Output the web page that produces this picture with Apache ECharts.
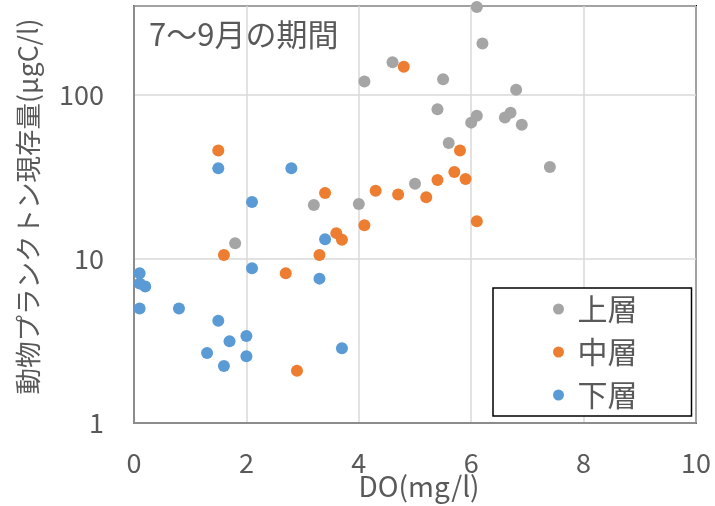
<!DOCTYPE html>
<html>
<head>
<meta charset="utf-8">
<script src="https://cdn.jsdelivr.net/npm/echarts@6/dist/echarts.min.js"></script>
<style>
  html, body { margin: 0; padding: 0; background: #fff; }
  #chart { width: 715px; height: 506px; }
</style>
</head>
<body>
<div id="chart"></div>
<script>
// DO (mg/l) and zooplankton standing stock (µgC/l), July–September
const seriesNames = ['上層', '中層', '下層'];
const seriesColors = ['#A5A5A5', '#ED7D31', '#5B9BD5'];

const upperDO  = [4.1, 4.6, 6.1, 6.2, 5.5, 6.8, 5.4, 6.1, 6.0, 6.7, 6.6, 6.9, 5.6, 7.4, 5.0, 3.2, 4.0, 1.8];
const upperVal = [121, 159, 345, 207, 125, 108, 82, 75, 68, 78, 73, 66, 51, 36.5, 28.8, 21.4, 21.7, 12.5];

const middleDO  = [4.8, 1.5, 5.8, 5.7, 5.4, 5.9, 4.7, 5.2, 4.3, 6.1, 3.4, 4.1, 3.6, 3.7, 1.6, 3.3, 2.7, 2.9];
const middleVal = [149, 46, 46, 34, 30.4, 30.8, 24.8, 23.8, 26.1, 17, 25.3, 16.1, 14.4, 13.1, 10.6, 10.6, 8.2, 2.08];

const lowerDO  = [1.5, 2.8, 2.1, 3.4, 2.1, 3.3, 0.1, 0.1, 0.2, 0.1, 0.8, 1.5, 2.0, 1.7, 1.3, 2.0, 1.6, 3.7];
const lowerVal = [35.8, 35.8, 22.3, 13.2, 8.8, 7.6, 8.2, 7.1, 6.8, 5.0, 5.0, 4.2, 3.4, 3.15, 2.67, 2.55, 2.23, 2.86];

const xTicks = { min: 0, max: 10, interval: 2 };
const yRange = { min: 1, max: 350 };

const FONT = "'Noto Sans CJK JP', 'Noto Sans', sans-serif";
const TEXT = '#595959';

function pairs(xs, ys) {
  return xs.map((x, i) => [x, ys[i]]);
}

const chart = echarts.init(document.getElementById('chart'), null, { renderer: 'canvas' });

chart.setOption({
  animation: false,
  backgroundColor: '#fff',
  textStyle: { fontFamily: FONT },
  title: {
    text: '7〜9月の期間',
    left: 144,
    top: 14,
    textStyle: { fontFamily: FONT, fontSize: 31, fontWeight: 'normal', color: TEXT }
  },
  grid: {
    left: 134, right: 19, top: 6, bottom: 83,
    outerBoundsMode: 'none',
    containLabel: false,
    show: true, borderColor: '#000', borderWidth: 2, backgroundColor: 'transparent'
  },
  legend: {
    orient: 'vertical',
    left: 493, top: 288,
    padding: [6, 54, 6, 60],
    itemGap: 13,
    itemWidth: 28, itemHeight: 11,
    icon: 'circle',
    borderColor: '#000', borderWidth: 1.5,
    backgroundColor: '#fff',
    textStyle: { fontFamily: FONT, fontSize: 30, color: TEXT },
    data: seriesNames
  },
  xAxis: {
    type: 'value',
    min: xTicks.min, max: xTicks.max, interval: xTicks.interval,
    name: 'DO(mg/l)',
    nameLocation: 'middle',
    nameGap: 49,
    nameMoveOverlap: false,
    nameTextStyle: { fontFamily: FONT, fontSize: 28, color: TEXT, padding: [0, 0, 0, 8] },
    axisLine: { show: true, lineStyle: { color: '#8c8c8c', width: 2 } },
    axisTick: { show: false },
    axisLabel: { fontFamily: FONT, fontSize: 27, color: TEXT, margin: 26 },
    splitLine: { show: true, lineStyle: { color: '#d9d9d9', width: 1.5 } }
  },
  yAxis: {
    type: 'log',
    logBase: 10,
    min: yRange.min, max: yRange.max,
    name: '動物プランクトン現存量(μgC/l)',
    nameLocation: 'middle',
    nameGap: 93,
    nameRotate: 90,
    nameMoveOverlap: false,
    nameTextStyle: { fontFamily: FONT, fontSize: 26.5, color: TEXT, padding: [0, 0, 0, 16] },
    axisLine: { show: true, lineStyle: { color: '#8c8c8c', width: 2 } },
    axisTick: { show: false },
    axisLabel: {
      fontFamily: FONT, fontSize: 27, color: TEXT, margin: 30,
      showMaxLabel: false,
      formatter: v => ([1, 10, 100, 1000].includes(Math.round(v)) ? String(Math.round(v)) : '')
    },
    splitLine: { show: true, lineStyle: { color: '#d9d9d9', width: 1.5 } }
  },
  series: [
    { name: seriesNames[0], type: 'scatter', symbolSize: 12, itemStyle: { color: seriesColors[0], opacity: 1 }, data: pairs(upperDO, upperVal) },
    { name: seriesNames[1], type: 'scatter', symbolSize: 12, itemStyle: { color: seriesColors[1], opacity: 1 }, data: pairs(middleDO, middleVal) },
    { name: seriesNames[2], type: 'scatter', symbolSize: 12, itemStyle: { color: seriesColors[2], opacity: 1 }, data: pairs(lowerDO, lowerVal) }
  ]
});
</script>
</body>
</html>
